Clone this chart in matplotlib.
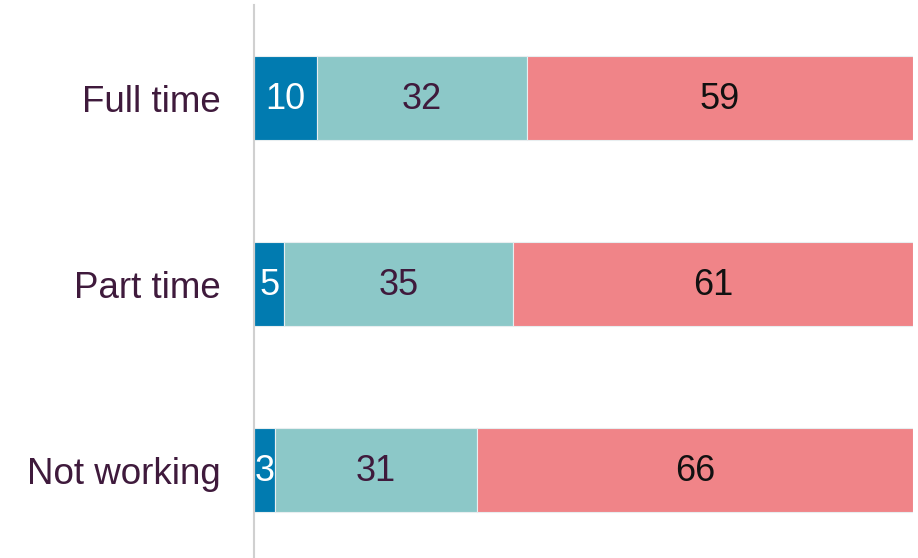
import matplotlib
matplotlib.use("Agg")
import matplotlib.pyplot as plt

categories = ["Full time", "Part time", "Not working"]
series_a = [9.6, 4.6, 3.2]
series_b = [31.8, 34.7, 30.6]
series_c = [58.6, 60.7, 66.2]

colors = ["#017bb0", "#8cc8c8", "#f08488"]
text_colors = ["white", "#3f1a3c", "#111111"]
label_color = "#3f1a3c"

plt.rcParams['font.family'] = ['Liberation Sans', 'DejaVu Sans']

fig = plt.figure(figsize=(9.18, 5.58), dpi=100)
ax = fig.add_axes([254/918, -5/558, 659/918, 1.0])

y = list(range(len(categories)))
left = [0.0] * len(categories)
for vals, col, tcol in zip([series_a, series_b, series_c], colors, text_colors):
    ax.barh(y, vals, left=left, height=0.45, color=col,
            edgecolor="#e8eef0", linewidth=0.8)
    for yi, l, v in zip(y, left, vals):
        ax.text(l + v / 2, yi + 0.01, f"{round(v):d}", ha="center", va="center",
                fontsize=26, color=tcol)
    left = [a + b for a, b in zip(left, vals)]

ax.set_xlim(0, 100)
ax.set_ylim(2.5, -0.5)
ax.set_yticks(y)
ax.set_yticklabels(categories, fontsize=26.5, color=label_color)
ax.tick_params(axis="y", length=0, pad=24)
ax.set_xticks([])
for s in ["top", "right", "bottom"]:
    ax.spines[s].set_visible(False)
ax.spines["left"].set_color("#d0d0d0")
ax.spines["left"].set_linewidth(1.5)

fig.savefig("out.png", dpi=100)
